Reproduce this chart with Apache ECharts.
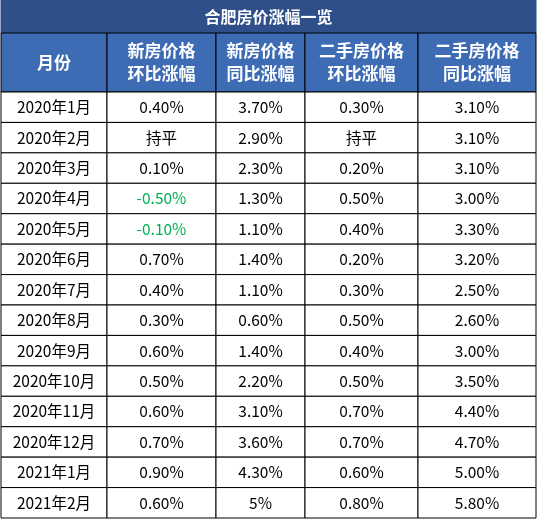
<!DOCTYPE html>
<html><head><meta charset="utf-8">
<script src="https://cdn.jsdelivr.net/npm/echarts@6/dist/echarts.min.js"></script>
<style>html,body{margin:0;padding:0;background:#fff}#c{width:537px;height:519px}</style>
</head><body><div id="c"></div>
<script>
const title = '合肥房价涨幅一览';
const headers = ['月份', '新房价格\n环比涨幅', '新房价格\n同比涨幅', '二手房价格\n环比涨幅', '二手房价格\n同比涨幅'];
const months = ['2020年1月','2020年2月','2020年3月','2020年4月','2020年5月','2020年6月','2020年7月','2020年8月','2020年9月','2020年10月','2020年11月','2020年12月','2021年1月','2021年2月'];
const newMoM = ['0.40%','持平','0.10%','-0.50%','-0.10%','0.70%','0.40%','0.30%','0.60%','0.50%','0.60%','0.70%','0.90%','0.60%'];
const newYoY = ['3.70%','2.90%','2.30%','1.30%','1.10%','1.40%','1.10%','0.60%','1.40%','2.20%','3.10%','3.60%','4.30%','5%'];
const oldMoM = ['0.30%','持平','0.20%','0.50%','0.40%','0.20%','0.30%','0.50%','0.40%','0.50%','0.70%','0.70%','0.60%','0.80%'];
const oldYoY = ['3.10%','3.10%','3.10%','3.00%','3.30%','3.20%','2.50%','2.60%','3.00%','3.50%','4.40%','4.70%','5.00%','5.80%'];

const colEdges = [1, 107, 216, 305, 418, 536];
const titleH = 33, headH = 59, top0 = titleH + headH, rowH = (518 - top0) / months.length;

const cells = [];
cells.push({kind:'title', c0:0, c1:5, y0:0, y1:titleH, text:title});
headers.forEach((h,i)=>cells.push({kind:'head', c0:i, c1:i+1, y0:titleH, y1:top0, text:h}));
const cols = [months,newMoM,newYoY,oldMoM,oldYoY];
months.forEach((m,r)=>cols.forEach((col,c)=>cells.push({kind:'cell', c0:c, c1:c+1, y0:top0+r*rowH, y1:top0+(r+1)*rowH, text:col[r]})));

const chart = echarts.init(document.getElementById('c'));
chart.setOption({
  animation:false,
  grid:{left:0,right:0,top:0,bottom:0},
  xAxis:{type:'value',min:0,max:537,show:false},
  yAxis:{type:'value',min:0,max:519,inverse:true,show:false},
  series:[{
    type:'custom',
    data:cells.map((d,i)=>[colEdges[d.c0],d.y0,colEdges[d.c1],d.y1,i]),
    renderItem:function(params,api){
      const d = cells[api.value(4)];
      const p0 = api.coord([api.value(0),api.value(1)]);
      const p1 = api.coord([api.value(2),api.value(3)]);
      let fill='#fff', color='#000', weight='normal', size=15.5;
      if(d.kind==='title'){fill='#2e4f8a';color='#fff';weight='bold';size=16;}
      if(d.kind==='head'){fill='#3e6cb4';color='#fff';weight='bold';size=17;}
      if(d.kind==='cell' && d.text.startsWith('-')) color='#00b050';
      return {type:'group',children:[
        {type:'rect',shape:{x:p0[0],y:p0[1],width:p1[0]-p0[0],height:p1[1]-p0[1]},
         style:{fill:fill,stroke:d.kind==='title'?'#2e4f8a':'#000',lineWidth:1}},
        {type:'text',style:{x:(p0[0]+p1[0])/2,y:(p0[1]+p1[1])/2,text:d.text,align:'center',verticalAlign:'middle',
          fill:color,fontWeight:weight,fontSize:size,lineHeight:size+6,fontFamily:'"Noto Sans CJK SC","Noto Sans",sans-serif'}}
      ]};
    }
  }]
});
</script></body></html>
